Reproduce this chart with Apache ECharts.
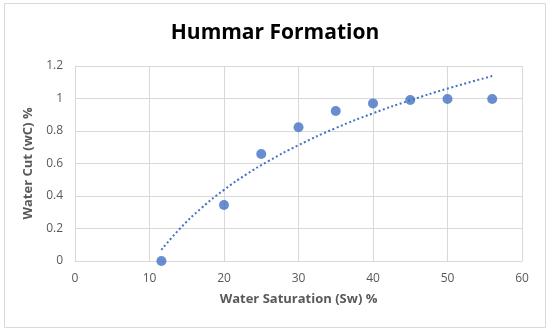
<!DOCTYPE html>
<html><head><meta charset="utf-8">
<script src="https://cdn.jsdelivr.net/npm/echarts@6/dist/echarts.min.js"></script>
<style>html,body{margin:0;padding:0;background:#fff}#c{width:550px;height:333px}</style>
</head><body><div id="c"></div>
<script>
const titleText = "Hummar Formation";
const xName = "Water Saturation (Sw) %";
const yName = "Water Cut (wC) %";
const swValues = [11.6, 20, 25, 30, 35, 40, 45, 50, 56];
const wcValues = [0, 0.345, 0.658, 0.823, 0.923, 0.97, 0.991, 0.997, 0.997];
const trendX = [11.6, 14, 17, 20, 23, 26, 30, 35, 40, 45, 50, 56];
const trendY = [0.068, 0.195, 0.327, 0.438, 0.533, 0.616, 0.713, 0.818, 0.909, 0.989, 1.061, 1.138];

const chart = echarts.init(document.getElementById('c'), null, {renderer:'canvas'});
const font = "'Open Sans', sans-serif";
chart.setOption({
  backgroundColor: '#fff',
  animation: false,
  graphic: [{type:'rect', shape:{x:4.5,y:3.5,width:541,height:324}, style:{fill:null, stroke:'#d9d9d9', lineWidth:1}}],
  title: {text: titleText, left: 'center', top: 18,
    textStyle: {fontFamily: font, fontWeight: 'bold', fontSize: 21, color: '#000'}},
  grid: {left: 75, right: 28, top: 66, bottom: 72},
  xAxis: {type: 'value', min: 0, max: 60, interval: 10,
    name: xName, nameLocation: 'middle', nameGap: 32,
    nameTextStyle: {fontFamily: font, fontWeight: 'bold', fontSize: 13, color: '#595959'},
    axisLine: {show: true, lineStyle: {color: '#d9d9d9'}}, axisTick: {show: false},
    axisLabel: {fontFamily: font, fontSize: 12, color: '#595959', margin: 12},
    splitLine: {show: true, lineStyle: {color: '#d9d9d9'}}},
  yAxis: {type: 'value', min: 0, max: 1.2, interval: 0.2,
    name: yName, nameLocation: 'middle', nameGap: 36,
    nameTextStyle: {fontFamily: font, fontWeight: 'bold', fontSize: 13, color: '#595959'},
    axisLine: {show: true, lineStyle: {color: '#d9d9d9'}}, axisTick: {show: false},
    axisLabel: {fontFamily: font, fontSize: 12, color: '#595959', margin: 12},
    splitLine: {show: true, lineStyle: {color: '#d9d9d9'}}},
  series: [
    {type: 'line', data: trendX.map((x, i) => [x, trendY[i]]), showSymbol: false, smooth: true,
      lineStyle: {color: '#4472C4', width: 2, type: [2, 2.5]}, z: 2},
    {type: 'scatter', data: swValues.map((x, i) => [x, wcValues[i]]), symbolSize: 10,
      itemStyle: {color: '#4472C4'}, z: 3}
  ]
});
</script></body></html>
